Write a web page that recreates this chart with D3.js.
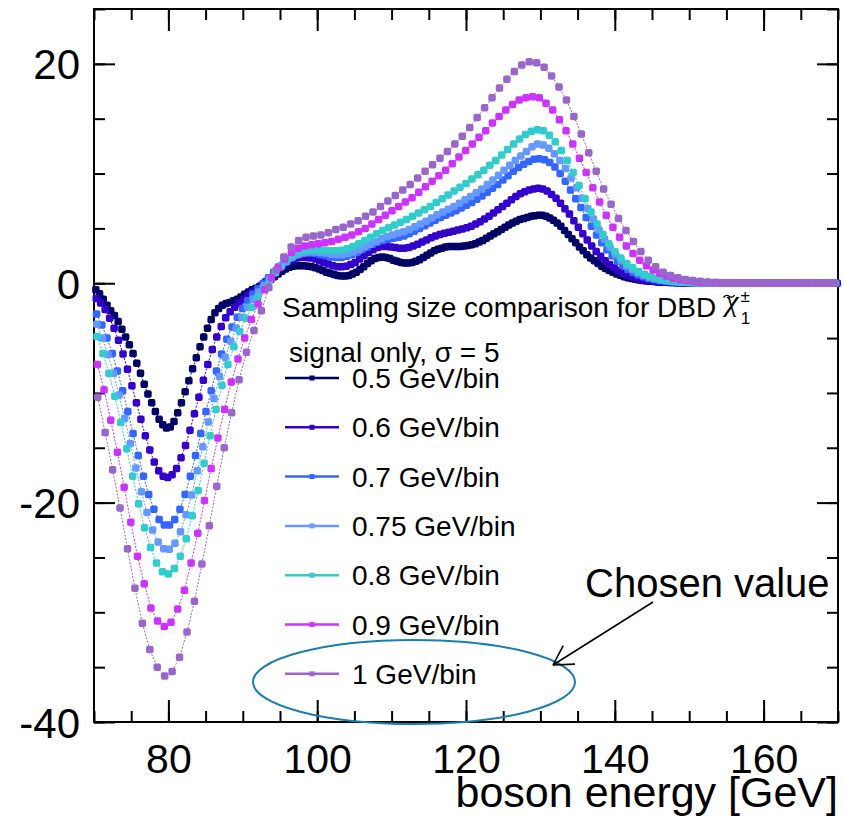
<!DOCTYPE html>
<html><head><meta charset="utf-8">
<script src="https://cdn.jsdelivr.net/npm/d3@7"></script>
<style>
body{margin:0;background:#fff}
svg{display:block}
text{font-family:"Liberation Sans",Arial,Helvetica,sans-serif;fill:#000}
</style>
</head><body>
<svg id="c" width="844" height="818"></svg>
<script>
// ---- data ----
const binWidths = [0.5, 0.6, 0.7, 0.75, 0.8, 0.9, 1.0];
const seriesLabels = ["0.5 GeV/bin","0.6 GeV/bin","0.7 GeV/bin","0.75 GeV/bin","0.8 GeV/bin","0.9 GeV/bin","1 GeV/bin"];
const seriesColors = ["#000066","#3300cc","#3366ff","#6699ff","#33cccc","#cc33ff","#9966cc"];
const xTicksMajor = [80,100,120,140,160];
const yTicksMajor = [-40,-20,0,20];

const v050 = [-0.6,-0.95,-1.45,-2.0,-2.5,-2.95,-3.5,-4.2,-4.9,-5.6,-6.4,-7.3,-8.2,-9.2,-10.1,-10.9,-11.7,-12.4,-12.9,-13.2,
-13.1,-12.6,-11.8,-10.9,-9.9,-8.9,-7.8,-6.8,-5.8,-4.9,-4.1,-3.3,-2.7,-2.3,-2.0,-1.85,-1.75,-1.6,-1.45,-1.25,
-1.0,-0.8,-0.6,-0.45,-0.3,-0.1,0.1,0.35,0.6,0.85,1.1,1.3,1.45,1.55,1.6,1.6,1.6,1.55,1.5,1.4,
1.3,1.15,1.0,0.9,0.8,0.7,0.65,0.65,0.7,0.85,1.0,1.25,1.5,1.8,2.05,2.25,2.35,2.4,2.35,2.25,
2.1,2.0,1.9,1.85,1.85,1.9,2.0,2.15,2.35,2.55,2.75,2.95,3.1,3.2,3.3,3.35,3.35,3.35,3.35,3.4,
3.45,3.5,3.6,3.75,3.9,4.1,4.3,4.5,4.7,4.9,5.1,5.3,5.5,5.65,5.8,5.9,6.0,6.1,6.15,6.2,
6.2,6.1,5.95,5.75,5.5,5.2,4.8,4.45,4.05,3.7,3.3,2.95,2.6,2.3,2.05,1.8,1.55,1.35,1.15,1.0,
0.85,0.72,0.6,0.5,0.42,0.36,0.3,0.25,0.21,0.18,0.15,0.12,0.1,0.08,0.07,0.06,0.05,0.04,0.03,0.03,
0.02,0.02,0.02,0.02,0.01,0.01,0.01,0.01,0.01,0.01,0,0,0,0,0,0,0,0,0,0,
0,0,0,0,0,0,0,0,0,0,0,0,0,0,0,0,0,0,0,0];

const v060 = [-1.4,-1.8,-2.4,-3.2,-4.1,-5.2,-6.45,-7.85,-9.35,-10.9,-12.4,-13.9,-15.2,-16.3,-17.1,-17.6,-17.7,-17.45,-16.9,-15.9,
-14.8,-13.4,-11.9,-10.4,-8.85,-7.4,-6.05,-4.9,-3.95,-3.15,-2.6,-2.2,-1.85,-1.5,-1.1,-0.8,-0.5,-0.2,0.15,0.5,
0.9,1.3,1.65,1.95,2.15,2.3,2.35,2.35,2.3,2.2,2.05,1.9,1.75,1.6,1.5,1.5,1.55,1.7,1.9,2.2,
2.5,2.8,3.05,3.25,3.35,3.35,3.3,3.25,3.2,3.2,3.25,3.4,3.55,3.75,3.95,4.15,4.3,4.45,4.55,4.65,
4.75,4.85,4.95,5.05,5.2,5.4,5.6,5.85,6.1,6.4,6.7,7.0,7.3,7.6,7.9,8.15,8.35,8.5,8.6,8.65,
8.6,8.4,8.1,7.75,7.3,6.8,6.3,5.7,5.1,4.5,3.95,3.4,2.9,2.45,2.05,1.7,1.4,1.15,0.92,0.74,
0.58,0.46,0.36,0.28,0.22,0.17,0.13,0.1,0.08,0.06,0.05,0.04,0.03,0.02,0.02,0.01,0.01,0.01,0.01,0.01,
0,0,0,0,0,0,0,0,0,0,0,0,0,0,0,0,0,0,0,0,0,0,0,0,0,0,0];

const v070 = [-2.8,-3.8,-5.0,-6.4,-8.0,-9.8,-11.7,-13.7,-15.7,-17.6,-19.25,-20.6,-21.55,-22.05,-22.05,-21.55,-20.6,-19.25,-17.6,-15.7,
-13.7,-11.7,-9.8,-8.0,-6.45,-5.1,-4.0,-3.1,-2.3,-1.6,-1.0,-0.5,0.0,0.5,1.0,1.5,1.9,2.25,2.5,2.65,
2.75,2.75,2.7,2.6,2.5,2.4,2.35,2.35,2.45,2.6,2.8,3.05,3.3,3.55,3.75,3.9,4.0,4.1,4.2,4.3,
4.5,4.75,5.0,5.25,5.5,5.75,6.0,6.2,6.4,6.6,6.85,7.1,7.35,7.65,7.95,8.3,8.65,9.0,9.4,9.8,
10.2,10.55,10.85,11.1,11.3,11.35,11.25,11.0,10.6,10.0,9.3,8.5,7.7,6.9,6.0,5.2,4.4,3.7,3.05,2.5,
2.0,1.6,1.25,0.97,0.75,0.58,0.44,0.34,0.26,0.2,0.15,0.11,0.08,0.06,0.04,0.03,0.02,0.02,0.01,0.01,
0.01,0.01,0,0,0,0,0,0,0,0,0,0,0,0,0,0,0,0,0,0,0,0,0];

const v075 = [-3.75,-5.0,-6.5,-8.2,-10.2,-12.3,-14.6,-16.85,-19.0,-20.9,-22.5,-23.6,-24.2,-24.25,-23.7,-22.65,-21.1,-19.3,-17.1,-14.9,
-12.65,-10.5,-8.5,-6.75,-5.3,-4.1,-3.1,-2.2,-1.45,-0.8,-0.2,0.4,0.95,1.5,1.95,2.35,2.6,2.75,2.85,2.85,
2.8,2.75,2.65,2.6,2.6,2.7,2.85,3.05,3.3,3.55,3.8,4.05,4.25,4.4,4.55,4.7,4.9,5.15,5.4,5.65,
5.95,6.25,6.5,6.75,7.0,7.3,7.6,7.9,8.25,8.6,9.0,9.4,9.85,10.3,10.75,11.2,11.6,12.0,12.45,12.7,
12.6,12.3,11.8,11.2,10.45,9.6,8.7,7.75,6.8,5.85,4.85,4.0,3.25,2.6,2.05,1.6,1.25,0.95,0.72,0.54,
0.4,0.3,0.22,0.16,0.12,0.09,0.06,0.04,0.03,0.02,0.01,0.01,0.01,0.01,0,0,0,0,0,0,
0,0,0,0,0,0,0,0,0,0,0,0,0];

const v080 = [-4.85,-6.4,-8.2,-10.3,-12.7,-15.1,-17.6,-20.1,-22.3,-24.1,-25.5,-26.3,-26.5,-26.0,-24.9,-23.3,-21.2,-18.9,-16.4,-13.9,
-11.5,-9.3,-7.4,-5.8,-4.4,-3.2,-2.2,-1.3,-0.5,0.3,1.0,1.65,2.2,2.6,2.85,3.0,3.05,3.05,3.0,2.95,
2.95,3.0,3.15,3.35,3.6,3.9,4.2,4.5,4.8,5.05,5.3,5.55,5.8,6.1,6.4,6.7,7.0,7.35,7.7,8.05,
8.4,8.75,9.1,9.5,9.9,10.3,10.75,11.2,11.7,12.2,12.7,13.15,13.55,13.85,14.0,13.9,13.5,12.9,12.1,11.2,
10.1,8.9,7.7,6.5,5.4,4.45,3.6,2.9,2.3,1.8,1.4,1.07,0.82,0.62,0.46,0.34,0.25,0.18,0.13,0.09,
0.07,0.05,0.04,0.03,0.02,0.02,0.01,0.01,0.01,0.01,0,0,0,0,0,0,0,0,0,0,0,0,0,0,0];

const v090 = [-7.4,-9.7,-12.5,-15.4,-18.6,-21.8,-24.9,-27.4,-29.6,-30.8,-31.3,-30.9,-29.7,-28.0,-25.5,-22.8,-19.8,-16.9,-14.1,-11.5,
-9.0,-6.9,-5.0,-3.3,-1.9,-0.6,0.5,1.4,2.2,2.8,3.2,3.4,3.5,3.6,3.7,3.8,4.0,4.2,4.4,4.7,
5.0,5.4,5.8,6.2,6.6,7.0,7.4,7.8,8.3,8.8,9.3,9.8,10.3,10.9,11.5,12.1,12.7,13.3,13.9,14.6,
15.2,15.8,16.3,16.7,16.9,17.0,16.9,16.4,15.8,14.9,13.9,12.7,11.4,10.1,8.7,7.4,6.2,5.1,4.2,3.4,
2.7,2.1,1.6,1.2,0.9,0.65,0.45,0.32,0.22,0.15,0.1,0.07,0.05,0.03,0.02,0.02,0.01,0.01,0.01,0,
0,0,0,0,0,0,0,0,0,0,0];

const v100 = [-10.4,-13.6,-17.0,-20.5,-24.2,-27.8,-31.0,-33.4,-35.0,-35.8,
-35.4,-34.1,-31.8,-29.0,-25.6,-22.1,-18.5,-15.0,-11.8,-8.8,
-6.3,-4.3,-2.5,-0.4,1.2,2.4,3.3,3.9,4.2,4.3,
4.4,4.6,4.9,5.1,5.4,5.7,6.1,6.5,7.0,7.5,
8.0,8.5,9.0,9.6,10.2,10.8,11.4,12.0,12.7,13.4,
14.2,15.1,16.0,16.9,17.8,18.6,19.3,19.9,20.2,20.1,
19.7,18.9,17.9,16.7,15.2,13.6,11.9,10.2,8.6,7.2,
5.9,4.8,3.8,2.9,2.1,1.5,1.0,0.7,0.5,0.35,
0.25,0.18,0.12,0.08,0.05,0.03,0.02,0.02,0.01,0.01,
0.01,0,0,0,0,0,0,0,0,0];

const seriesValues = [v050, v060, v070, v075, v080, v090, v100];

// ---- chart ----
const svg = d3.select("#c");
const x = d3.scaleLinear().domain([70,170]).range([94,838]);
const y = d3.scaleLinear().domain([-40,25]).range([722,9]);

const minorX = d3.range(70,171,5);
const minorY = d3.range(-40,26,5);
const plainFmt = d => String(d);

function styleAxis(g){ g.select(".domain").remove(); g.selectAll(".tick line").attr("stroke","#000").attr("stroke-width",2); }

// bottom
svg.append("g").attr("transform","translate(0,722)")
  .call(d3.axisBottom(x).tickValues(minorX).tickSize(-11).tickFormat(""))
  .call(styleAxis);
const gb = svg.append("g").attr("transform","translate(0,722)")
  .call(d3.axisBottom(x).tickValues(xTicksMajor).tickSize(-22).tickFormat(plainFmt))
  .call(styleAxis);
gb.selectAll(".tick text").attr("y",51).attr("dy",0).attr("font-size",41)
  .attr("font-family",'"Liberation Sans",Arial,sans-serif').attr("fill","#000");
// top
svg.append("g").attr("transform","translate(0,9)")
  .call(d3.axisTop(x).tickValues(minorX).tickSize(-11).tickFormat("")).call(styleAxis);
svg.append("g").attr("transform","translate(0,9)")
  .call(d3.axisTop(x).tickValues(xTicksMajor).tickSize(-22).tickFormat("")).call(styleAxis);
// left
svg.append("g").attr("transform","translate(94,0)")
  .call(d3.axisLeft(y).tickValues(minorY).tickSize(-11).tickFormat("")).call(styleAxis);
const gl = svg.append("g").attr("transform","translate(94,0)")
  .call(d3.axisLeft(y).tickValues(yTicksMajor).tickSize(-21).tickFormat(plainFmt))
  .call(styleAxis);
gl.selectAll(".tick text").attr("x",-14).attr("dy","0.36em").attr("font-size",42)
  .attr("font-family",'"Liberation Sans",Arial,sans-serif').attr("fill","#000");
// right
svg.append("g").attr("transform","translate(838,0)")
  .call(d3.axisRight(y).tickValues(minorY).tickSize(-11).tickFormat("")).call(styleAxis);
svg.append("g").attr("transform","translate(838,0)")
  .call(d3.axisRight(y).tickValues(yTicksMajor).tickSize(-21).tickFormat("")).call(styleAxis);

// frame
svg.append("rect").attr("x",x(70)).attr("y",y(25)).attr("width",x(170)-x(70)).attr("height",y(-40)-y(25))
  .attr("fill","none").attr("stroke","#000").attr("stroke-width",2);

// series
const line = d3.line().x(d=>x(d.e)).y(d=>y(d.v));
const ms = 7.5;
seriesValues.forEach((vals,i)=>{
  const w = binWidths[i];
  const pts = vals.map((v,k)=>({e:70 + w*(k+0.5), v:v}));
  const g = svg.append("g");
  g.append("path").datum(pts).attr("d",line).attr("fill","none")
    .attr("stroke",seriesColors[i]).attr("stroke-width",1).attr("stroke-dasharray","2,1.5");
  g.selectAll("rect").data(pts).join("rect")
    .attr("x",d=>x(d.e)-ms/2).attr("y",d=>y(d.v)-ms/2)
    .attr("width",ms).attr("height",ms).attr("rx",2).attr("fill",seriesColors[i]);
});

// legend title (single text element incl. chi symbol)
const title = svg.append("text").attr("x",282).attr("y",317).attr("font-size",28);
title.append("tspan").text("Sampling size comparison for DBD");
title.append("tspan").attr("dx",9).attr("dy",-6).attr("font-family",'"Liberation Serif","Times New Roman",serif').attr("font-style","italic").attr("font-size",30).text("χ");
title.append("tspan").attr("dx",2).attr("dy",-9).attr("font-size",17).text("±");
title.append("tspan").attr("dx",-9).attr("dy",22).attr("font-size",17).text("1");
// tilde accent over chi (drawn as a small stroke)
svg.append("path").attr("d","M723.5,297.5 q2.8,-3.6 5.6,-1.2 t5.6,-1.2")
  .attr("fill","none").attr("stroke","#000").attr("stroke-width",1.3);
svg.append("text").attr("x",289).attr("y",362).attr("font-size",28).text("signal only, σ = 5");

seriesLabels.forEach((lab,i)=>{
  const ly = 378 + i*49.3;
  svg.append("line").attr("x1",285).attr("x2",339).attr("y1",ly).attr("y2",ly)
    .attr("stroke",seriesColors[i]).attr("stroke-width",2.5);
  svg.append("rect").attr("x",309.5).attr("y",ly-2.5).attr("width",5).attr("height",5).attr("fill",seriesColors[i]);
  svg.append("text").attr("x",352).attr("y",ly+10).attr("font-size",28).text(lab);
});

// axis title
svg.append("text").attr("x",838).attr("y",807).attr("text-anchor","end").attr("font-size",43).text("boson energy [GeV]");

// annotation
svg.append("text").attr("x",585).attr("y",597).attr("font-size",40).text("Chosen value");
svg.append("ellipse").attr("cx",414).attr("cy",682).attr("rx",161).attr("ry",42)
  .attr("fill","none").attr("stroke","#1a7fb0").attr("stroke-width",2);
const ax0=653, ay0=602, ax1=553, ay1=665;
svg.append("line").attr("x1",ax0).attr("y1",ay0).attr("x2",ax1).attr("y2",ay1).attr("stroke","#000").attr("stroke-width",1.6);
const ang = Math.atan2(ay0-ay1, ax0-ax1);
[ang+Math.PI/6, ang-Math.PI/6].forEach(a=>{
  svg.append("line").attr("x1",ax1).attr("y1",ay1)
    .attr("x2",ax1+22*Math.cos(a)).attr("y2",ay1+22*Math.sin(a))
    .attr("stroke","#000").attr("stroke-width",1.6);
});
</script>
</body></html>
